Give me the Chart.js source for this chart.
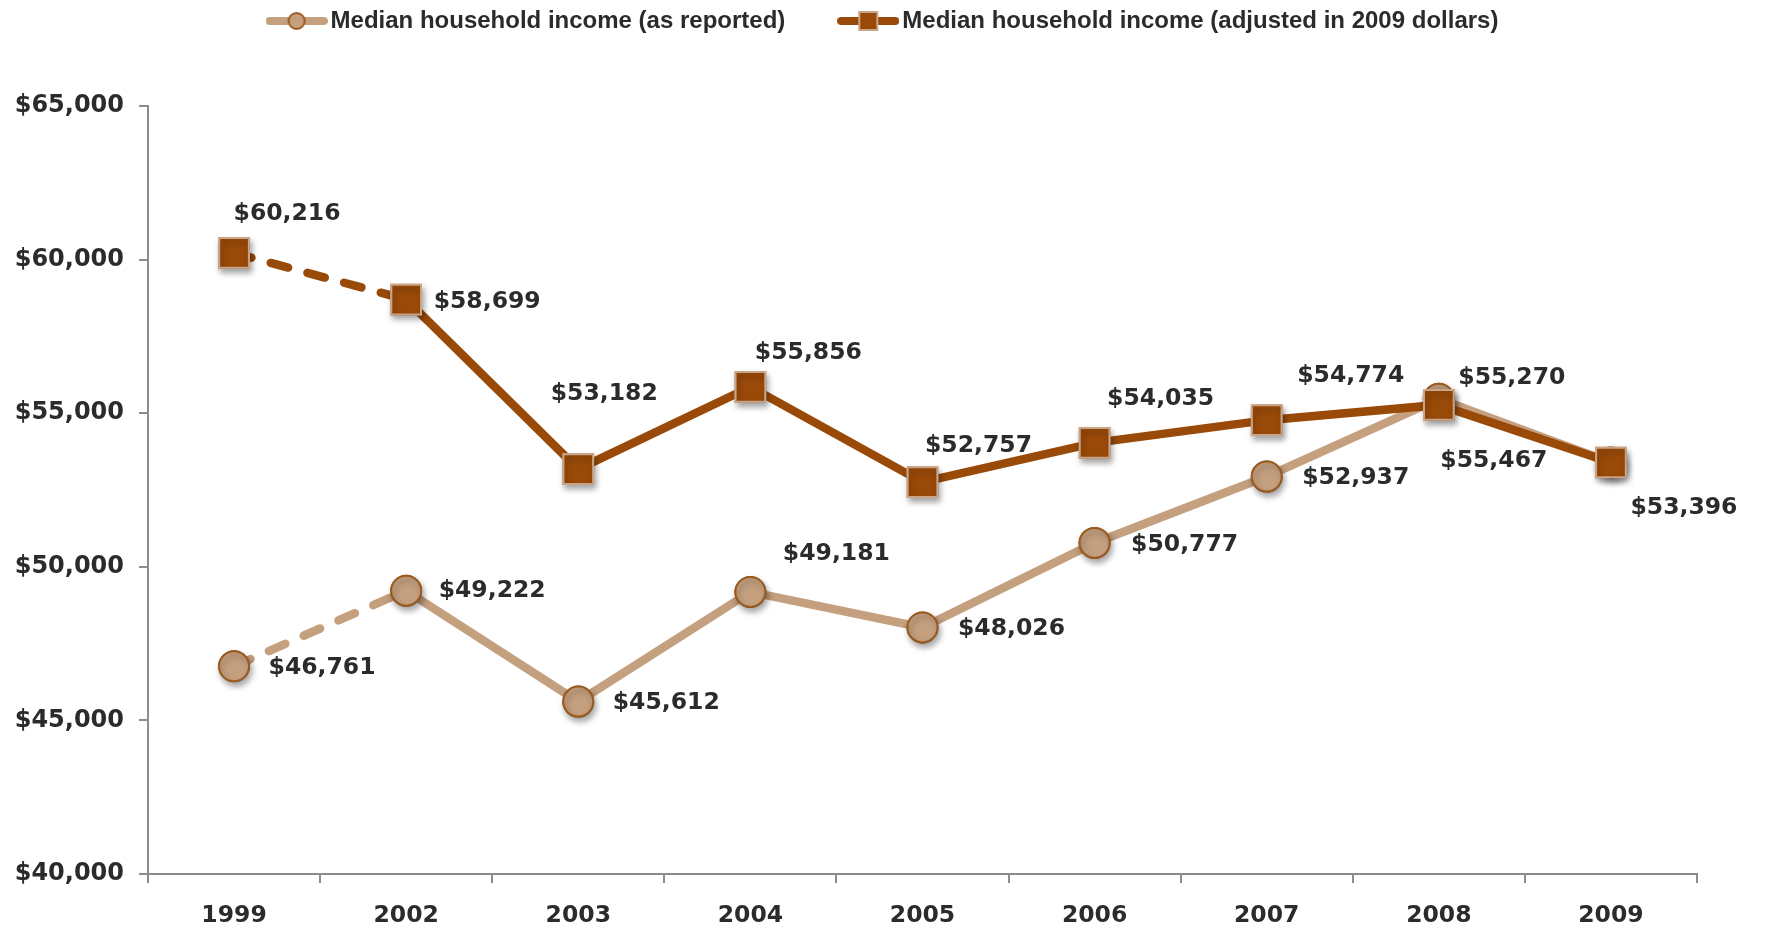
<!DOCTYPE html>
<html>
<head>
<meta charset="utf-8">
<script src="https://cdn.jsdelivr.net/npm/chart.js@4.4.1/dist/chart.umd.min.js"></script>
<style>
    html, body { margin: 0; padding: 0; background: #fff; }
</style>
</head>
<body>
<canvas id="incomeChart" width="1771" height="930"></canvas>
<script>
// Data
const years = ['1999', '2002', '2003', '2004', '2005', '2006', '2007', '2008', '2009'];
const reported = [46761, 49222, 45612, 49181, 48026, 50777, 52937, 55467, 53396];
const adjusted = [60216, 58699, 53182, 55856, 52757, 54035, 54774, 55270, 53396];
const yMin = 40000;
const yMax = 65000;
const yStep = 5000;

// Colours
const tan = '#C4A07F';
const tanEdge = '#9B5B20';
const brown = '#9A4A08';
const brownEdge = '#C9A486';
const textColor = '#2B2B2B';

// Where each value label sits relative to its point (dx, dy of label centre)
const reportedLabelPos = [[88, 2], [86, 0], [88, 1], [86, -38], [89, 1], [90, 2], [89, 1], [55, 62], null];
const adjustedLabelPos = [[53, -39], [81, 2], [26, -75], [58, -34], [56, -36], [66, -44], [84, -44], [73, -27], [73, 45]];

const money = v => '$' + v.toLocaleString('en-US');

// Legend swatches: a short line with the marker in the middle
function swatch(lineColor, fill, edge, shape) {
    const c = document.createElement('canvas');
    c.width = 62;
    c.height = 22;
    const g = c.getContext('2d');
    g.strokeStyle = lineColor;
    g.lineWidth = 8;
    g.lineCap = 'round';
    g.beginPath();
    g.moveTo(4, 11);
    g.lineTo(58, 11);
    g.stroke();
    g.fillStyle = fill;
    g.strokeStyle = edge;
    g.lineWidth = 2;
    g.beginPath();
    if (shape === 'circle') {
        g.arc(31, 11, 8, 0, Math.PI * 2);
    } else {
        g.rect(22, 2, 18, 18);
    }
    g.fill();
    g.stroke();
    return c;
}
const legendIcons = [
    swatch(tan, tan, tanEdge, 'circle'),
    swatch(brown, brown, brownEdge, 'rect')
];

// Extra room under the legend so the plot starts lower,
// and centre the legend on the whole canvas rather than the padded box
const legendSpace = {
    id: 'legendSpace',
    beforeInit(chart) {
        const fit = chart.legend.fit;
        chart.legend.fit = function () {
            fit.call(this);
            this.height = 158;
        };
    },
    afterLayout(chart) {
        chart.legend.left += 38;
        chart.legend.right += 38;
    }
};

// Draws the value labels next to the points
const valueLabels = {
    id: 'valueLabels',
    afterDatasetsDraw(chart) {
        const ctx = chart.ctx;
        ctx.save();
        ctx.font = 'bold 23.5px "DejaVu Sans"';
        ctx.fillStyle = textColor;
        ctx.textAlign = 'center';
        ctx.textBaseline = 'middle';
        chart.data.datasets.forEach((ds, i) => {
            const meta = chart.getDatasetMeta(i);
            meta.data.forEach((pt, j) => {
                const pos = ds.labelPos[j];
                if (!pos) return;
                ctx.fillText(money(ds.data[j]), pt.x + pos[0], pt.y + pos[1]);
            });
        });
        ctx.restore();
    }
};

// Soft drop shadow under the markers
const markerShadow = {
    id: 'markerShadow',
    afterDatasetDraw(chart, args) {
        const ctx = chart.ctx;
        ctx.save();
        ctx.shadowColor = 'rgba(0, 0, 0, 0.35)';
        ctx.shadowBlur = 6;
        ctx.shadowOffsetX = 2;
        ctx.shadowOffsetY = 4;
        args.meta.data.forEach(pt => pt.draw(ctx, chart.chartArea));
        ctx.restore();
    }
};

const dashFirst = (pattern) => ({
    borderDash: ctx => ctx.p0DataIndex === 0 ? pattern : undefined
});

const ctx = document.getElementById('incomeChart').getContext('2d');
new Chart(ctx, {
    type: 'line',
    data: {
        labels: years,
        datasets: [{
            label: 'Median household income (as reported)',
            data: reported,
            labelPos: reportedLabelPos,
            borderColor: tan,
            borderWidth: 8.5,
            borderCapStyle: 'round',
            pointStyle: 'circle',
            pointRadius: 15,
            pointBackgroundColor: tan,
            pointBorderColor: tanEdge,
            pointBorderWidth: 2,
            segment: dashFirst([18, 20]),
            order: 1
        }, {
            label: 'Median household income (adjusted in 2009 dollars)',
            data: adjusted,
            labelPos: adjustedLabelPos,
            borderColor: brown,
            borderWidth: 8.5,
            borderCapStyle: 'round',
            pointStyle: 'rect',
            pointRadius: 21,
            pointBackgroundColor: brown,
            pointBorderColor: brownEdge,
            pointBorderWidth: 2,
            segment: dashFirst([18, 20]),
            order: 0
        }]
    },
    options: {
        responsive: false,
        animation: false,
        layout: {
            padding: { top: -52, right: 74, bottom: 0, left: 0 }
        },
        plugins: {
            tooltip: { enabled: false },
            legend: {
                position: 'top',
                labels: {
                    usePointStyle: true,
                    pointStyleWidth: 44,
                    padding: 61,
                    color: textColor,
                    font: { family: '"Liberation Sans"', size: 24, weight: 'bold' },
                    generateLabels(chart) {
                        const items = Chart.defaults.plugins.legend.labels.generateLabels(chart);
                        items.sort((a, b) => a.datasetIndex - b.datasetIndex);
                        items.forEach(it => { it.pointStyle = legendIcons[it.datasetIndex]; });
                        return items;
                    }
                }
            }
        },
        scales: {
            x: {
                offset: true,
                grid: {
                    offset: true,
                    drawOnChartArea: false,
                    drawTicks: true,
                    tickLength: 9,
                    color: '#8C8C8C',
                    lineWidth: 2
                },
                border: { color: '#8C8C8C', width: 2 },
                ticks: {
                    color: textColor,
                    padding: 19,
                    font: { family: '"DejaVu Sans"', size: 23.5, weight: 'bold' }
                },
                afterFit(scale) { scale.height = 56; }
            },
            y: {
                min: yMin,
                max: yMax,
                grid: {
                    drawOnChartArea: false,
                    drawTicks: true,
                    tickLength: 9,
                    color: '#8C8C8C',
                    lineWidth: 2
                },
                border: { color: '#8C8C8C', width: 2 },
                ticks: {
                    stepSize: yStep,
                    color: textColor,
                    padding: 15,
                    font: { family: '"DejaVu Sans"', size: 24, weight: 'bold' },
                    callback: v => money(v)
                },
                afterFit(scale) { scale.width = 148; }
            }
        }
    },
    plugins: [legendSpace, markerShadow, valueLabels]
});
</script>
</body>
</html>
